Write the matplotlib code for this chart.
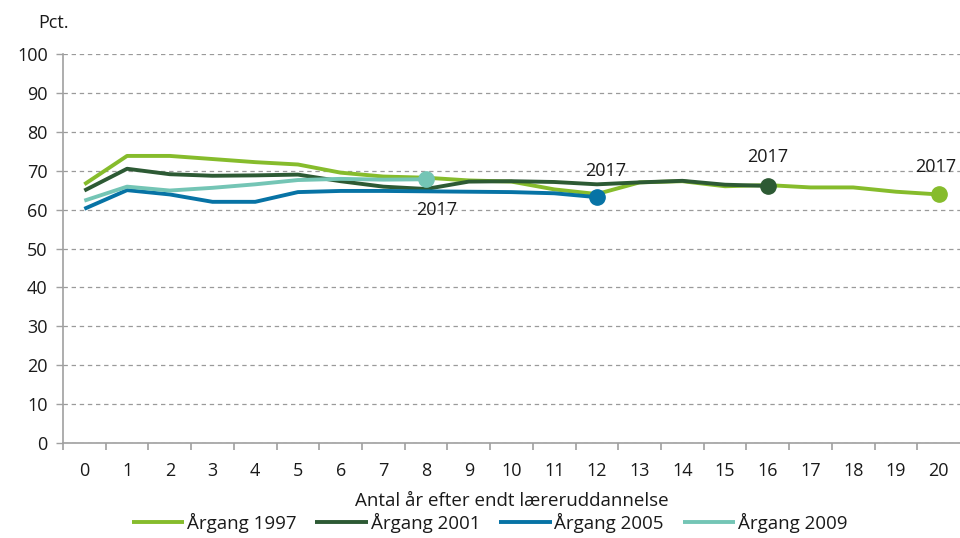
import matplotlib.pyplot as plt
import numpy as np
from matplotlib.ticker import MultipleLocator

plt.rcParams['font.family'] = ['Open Sans', 'DejaVu Sans']

years = list(range(21))
a1997 = [66.5, 73.8, 73.8, 73.0, 72.2, 71.6, 69.5, 68.5, 68.2, 67.5, 67.2,
         65.2, 64.0, 67.0, 67.3, 66.0, 66.3, 65.7, 65.7, 64.6, 63.9]
a2001 = [64.9, 70.5, 69.1, 68.7, 68.8, 69.0, 67.3, 65.9, 65.3, 67.2, 67.3,
         67.1, 66.5, 67.0, 67.4, 66.4, 66.1]
a2005 = [60.2, 65.0, 63.9, 62.0, 62.0, 64.5, 64.8, 64.8, 64.7, 64.6, 64.5,
         64.2, 63.2]
a2009 = [62.3, 65.9, 64.9, 65.6, 66.5, 67.6, 67.9, 67.7, 67.8]

series = [
    ("Årgang 1997", a1997, "#86bc2c"),
    ("Årgang 2001", a2001, "#2d5a34"),
    ("Årgang 2005", a2005, "#0773a5"),
    ("Årgang 2009", a2009, "#74c5b5"),
]
# label offsets for the end points (points): (dx, dy)
label_offsets = {"Årgang 1997": (-2, 20), "Årgang 2001": (0, 21),
                 "Årgang 2005": (6, 19), "Årgang 2009": (8, -22)}

fig = plt.figure(figsize=(9.6, 5.38), dpi=100)
ax = fig.add_axes([0.0656, 0.1766, 0.9344, 0.723])

for name, vals, col in series:
    x = years[:len(vals)]
    ax.plot(x, vals, color=col, lw=2.8, label=name, solid_capstyle='butt', zorder=3)
    ax.plot(x[-1], vals[-1], 'o', color=col, ms=11, zorder=4)
    dx, dy = label_offsets[name]
    ax.annotate("2017", (x[-1], vals[-1]), xytext=(dx, dy), textcoords='offset points',
                ha='center', va='center', fontsize=13, color='#1a1a1a', zorder=5)

ax.set_xlim(-0.5, 20.5)
ax.set_ylim(0, 100)
ax.set_xticks(years)
ax.set_xticks(np.arange(-0.5, 20.0, 1.0), minor=True)
ax.yaxis.set_major_locator(MultipleLocator(10))
ax.grid(axis='y', color='#9a9a9a', ls=(0, (3.5, 3)), lw=0.9)
ax.set_axisbelow(True)

for s in ['top', 'right']:
    ax.spines[s].set_visible(False)
for s in ['left', 'bottom']:
    ax.spines[s].set_color('#a0a0a0')
    ax.spines[s].set_linewidth(1.2)

ax.tick_params(axis='x', which='major', length=0, pad=14, labelsize=13, labelcolor='#1a1a1a')
ax.tick_params(axis='x', which='minor', length=5, color='#a0a0a0', width=1.2)
ax.tick_params(axis='y', length=5, color='#a0a0a0', width=1.0, pad=6, labelsize=13,
               labelcolor='#1a1a1a')

ax.set_xlabel("Antal år efter endt læreruddannelse", fontsize=13.5, color='#1a1a1a',
              labelpad=8)
fig.text(0.04, 0.958, "Pct.", fontsize=13, color='#1a1a1a', va='center', ha='left')

fig.legend(loc='lower center', bbox_to_anchor=(0.51, -0.022), ncol=4, frameon=False,
           fontsize=13.5, handlelength=2.8, handletextpad=0.15, columnspacing=1.0,
           labelcolor='#1a1a1a')

fig.savefig("out.png", dpi=100)
